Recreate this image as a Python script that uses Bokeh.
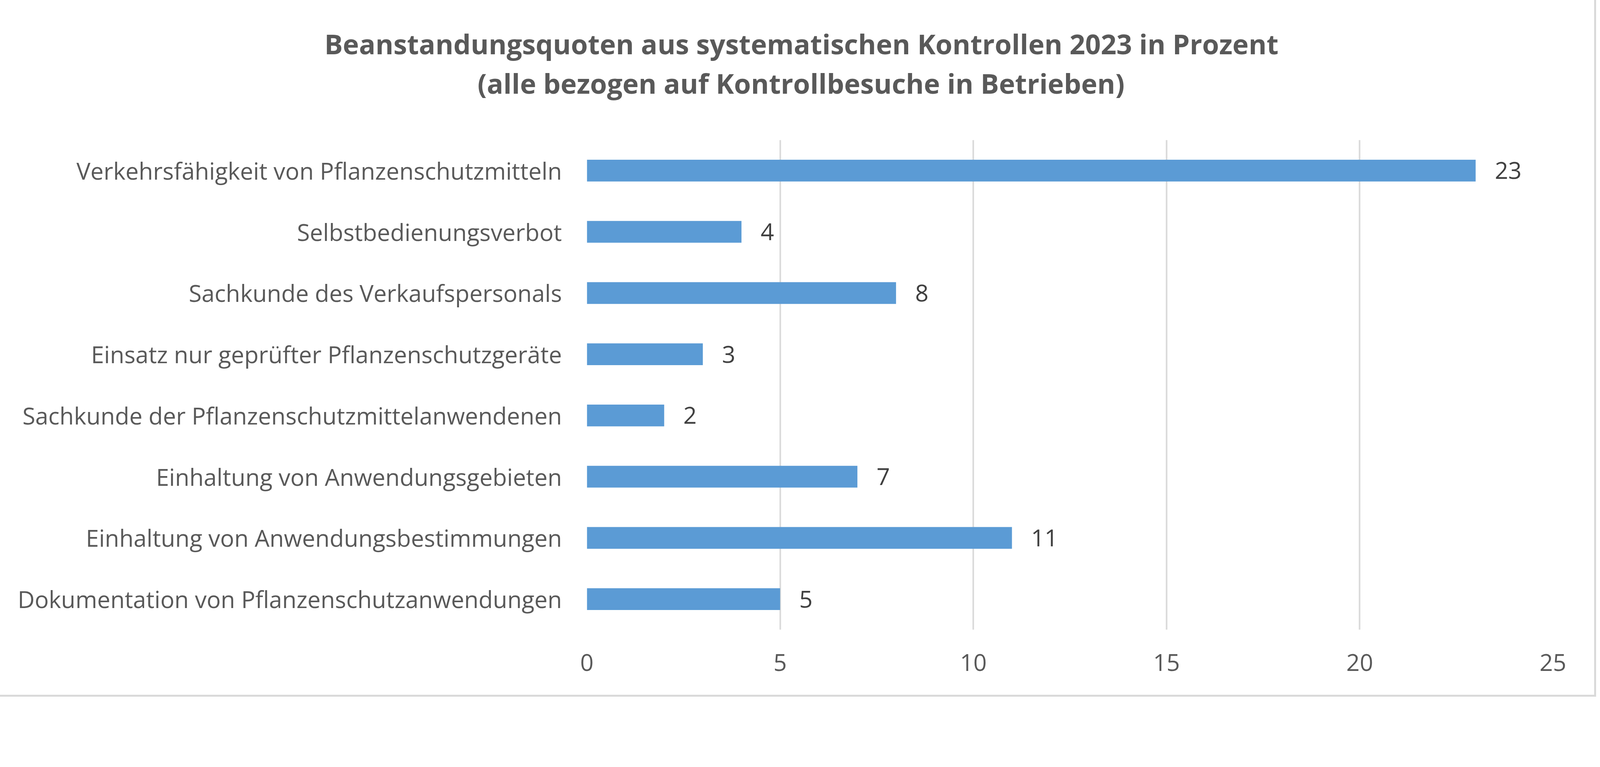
from bokeh.plotting import figure
from bokeh.models import Range1d, FactorRange, FixedTicker, Title, ColumnDataSource
from bokeh.embed import file_html
from bokeh.resources import INLINE
from bokeh.core.properties import value

categories = [
    "Verkehrsfähigkeit von Pflanzenschutzmitteln",
    "Selbstbedienungsverbot",
    "Sachkunde des Verkaufspersonals",
    "Einsatz nur geprüfter Pflanzenschutzgeräte",
    "Sachkunde der Pflanzenschutzmittelanwendenen",
    "Einhaltung von Anwendungsgebieten",
    "Einhaltung von Anwendungsbestimmungen",
    "Dokumentation von Pflanzenschutzanwendungen",
]
values = [23, 4, 8, 3, 2, 7, 11, 5]
x_ticks = [0, 5, 10, 15, 20, 25]
title_line1 = "Beanstandungsquoten aus systematischen Kontrollen 2023 in Prozent"
title_line2 = "(alle bezogen auf Kontrollbesuche in Betrieben)"

FONT = "Open Sans"
W, H = 4078, 1776
FL, FR, FT, FB = 1502, 3975, 358, 1612

src = ColumnDataSource(dict(cat=categories, val=values, lbl=[str(v) for v in values]))

p = figure(
    width=W, height=H,
    y_range=FactorRange(factors=list(reversed(categories)), range_padding=0),
    x_range=Range1d(0, 25),
    output_backend="svg", toolbar_location=None,
    min_border_left=FL, min_border_right=W - FR,
    min_border_top=FT, min_border_bottom=H - FB,
)
p.outline_line_color = None
p.background_fill_color = "white"
p.border_fill_color = "white"
p.styles = {"outline": "5px solid #D9D9D9", "outline-offset": "3px"}

p.hbar(y="cat", right="val", left=0, height=0.355, source=src,
       fill_color="#5B9BD5", line_color=None)
p.text(x="val", y="cat", text="lbl", source=src, x_offset=49,
       text_align="left", text_baseline="middle",
       text_font=value(FONT), text_font_size="60px", text_color="#404040")

p.ygrid.grid_line_color = None
p.xgrid.grid_line_color = "#D9D9D9"
p.xgrid.grid_line_width = 4
p.xaxis.ticker = FixedTicker(ticks=x_ticks)

for ax in (p.xaxis, p.yaxis):
    ax.axis_line_color = None
    ax.major_tick_line_color = None
    ax.minor_tick_line_color = None
    ax.major_tick_out = 0
    ax.major_tick_in = 0
    ax.major_label_text_font = FONT
    ax.major_label_text_font_size = "60px"
    ax.major_label_text_color = "#595959"
p.yaxis.major_label_standoff = 64
p.xaxis.major_label_standoff = 62

# line 2 first (closest to frame), then line 1 above it
p.add_layout(Title(text=title_line2, align="left", offset=-280, standoff=196,
                   text_font=FONT, text_font_style="bold", text_font_size="70px",
                   text_color="#595959"), "above")
p.add_layout(Title(text=title_line1, align="left", offset=-672, standoff=-190,
                   text_font=FONT, text_font_style="bold", text_font_size="70px",
                   text_color="#595959"), "above")

open("out.html", "w").write(file_html(p, INLINE))
